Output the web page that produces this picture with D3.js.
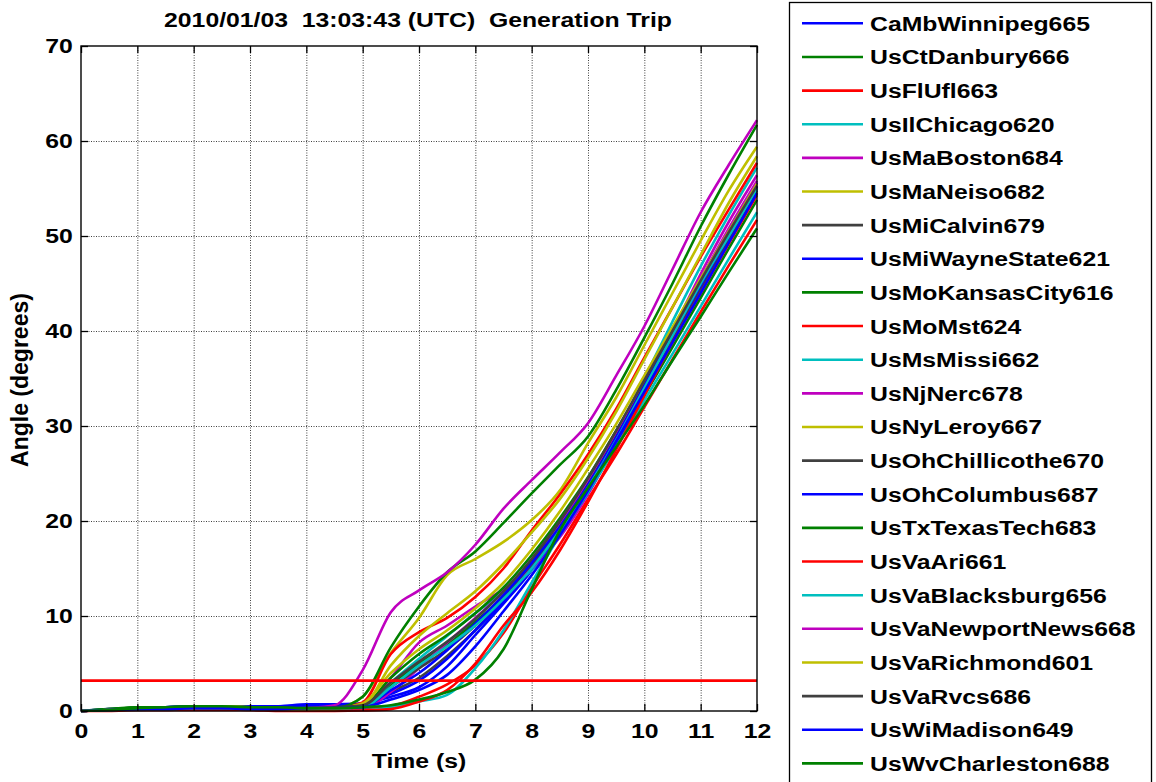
<!DOCTYPE html>
<html><head><meta charset="utf-8">
<script src="https://cdn.jsdelivr.net/npm/d3@7"></script>
<style>
body{margin:0;background:#fff}
svg{display:block}
text{font-family:Arial,"Liberation Sans",sans-serif;font-weight:bold;fill:#000}
</style>
</head><body><svg id="c" width="1156" height="782"></svg>
<script>
// ---- data ----
const titleText = "2010/01/03  13:03:43 (UTC)  Generation Trip";
const xLabel = "Time (s)";
const yLabel = "Angle (degrees)";
const times = [0,0.5,1,1.5,2,2.5,3,3.5,4,4.5,5,5.5,6,6.5,7,7.5,8,8.5,9,9.5,10,10.5,11,11.5,12];
const xTicks = [0,1,2,3,4,5,6,7,8,9,10,11,12];
const yTicks = [0,10,20,30,40,50,60,70];
const thresholdValue = 3.2;
const seriesNames = ["CaMbWinnipeg665","UsCtDanbury666","UsFlUfl663","UsIlChicago620","UsMaBoston684","UsMaNeiso682","UsMiCalvin679","UsMiWayneState621","UsMoKansasCity616","UsMoMst624","UsMsMissi662","UsNjNerc678","UsNyLeroy667","UsOhChillicothe670","UsOhColumbus687","UsTxTexasTech683","UsVaAri661","UsVaBlacksburg656","UsVaNewportNews668","UsVaRichmond601","UsVaRvcs686","UsWiMadison649","UsWvCharleston688"];
const seriesValues = [
 [0,0.1,0.3,0.4,0.5,0.5,0.4,0.5,0.6,0.7, 0.8,1.5,2.5,4.7,8,11.3,14.8,19,23.5,29,34.5,40,45.3,50.5,55.6],
 [0,0.2,0.4,0.4,0.5,0.5,0.3,0.3,0.3,0.4, 0.5,2.8,5,7,9.4,12,15.2,19,23.2,28,33.2,38.3,43.5,48.7,53.8],
 [0,0.1,0.1,0.1,0.2,0.2,0.1,0.1,0.1,0.1, 0.2,0.5,1.5,2.8,4.8,8.2,13,17.5,22.3,27,32,37,42,46.9,51.7],
 [0,0.1,0.2,0.3,0.3,0.3,0.2,0.2,0.3,0.4, 0.5,3,5.5,7.9,10.3,12.5,14.8,18.5,23.5,29,35,41,46.8,52.2,57.2],
 [0,0.1,0.2,0.3,0.4,0.4,0.3,0.2,0.2,0.3, 0.5,3.5,7.2,9,11,12.8,15,18.3,22.8,28.2,34,40,46,51.5,56.4],
 [0,0.1,0.2,0.3,0.4,0.5,0.3,0.2,0.2,0.3, 1.5,6.1,9.8,14.3,16,17.8,20.1,23.2,28.2,33,38.5,44,49.5,54.8,59.4],
 [0,0.1,0.2,0.2,0.3,0.3,0.2,0.2,0.3,0.3, 0.5,2,3.5,5.8,8.5,11.8,15.8,19.8,24.2,29.2,34.5,39.8,45,50,55],
 [0,0.2,0.3,0.4,0.5,0.5,0.5,0.5,0.7,0.7, 0.7,1.8,3.2,5.5,8.5,11.5,15,18.8,23,28.2,33.8,39.2,44.5,49.7,54.8],
 [0,0.2,0.4,0.4,0.5,0.5,0.4,0.3,0.3,0.4, 0.6,3.5,6,8,10.3,13,16.4,20.3,24.6,29.5,34.6,39.8,45,50.1,55.2],
 [0,0.1,0.2,0.2,0.3,0.3,0.2,0.2,0.2,0.3, 0.9,6,8.3,9.8,12,15,19,22.8,27,31.8,37.2,42.5,47.8,52.8,57.7],
 [0,0.1,0.1,0.2,0.2,0.2,0.2,0.1,0.1,0.1, 0.1,0.4,1,1.7,4.5,8.5,13.5,18.5,23,27.8,32.7,37.6,42.6,47.6,52.5],
 [0,0.1,0.2,0.2,0.3,0.3,0.3,0.1,0.2,0.3, 0.3,2,4.5,7.2,9.8,12.5,15.5,19.5,24.2,29.3,34.8,40.2,45.5,50.8,55.8],
 [0,0.1,0.2,0.3,0.4,0.5,0.4,0.2,0.2,0.3, 0.8,4,6.5,8.5,10.8,13.5,17,21,25.5,30.2,35.3,40.4,45.5,50.5,55.5],
 [0,0.1,0.2,0.3,0.3,0.3,0.2,0.2,0.2,0.3, 0.4,2.5,4.5,6.5,9,12,15.5,19.2,23.8,28.8,34,39.3,44.5,49.6,54.6],
 [0,0.1,0.2,0.3,0.4,0.4,0.3,0.3,0.4,0.5, 0.5,2.2,4,6.4,9.2,12.2,15.6,19.4,23.8,28.8,34.2,39.6,44.8,50,55.2],
 [0,0.2,0.3,0.4,0.4,0.4,0.3,0.2,0.2,0.3, 1.5,6.7,11,14.6,16.8,19.8,22.9,25.9,28.9,33.8,39.3,45,51,56.5,61.7],
 [0,0,0.1,0.1,0.1,0.1,0.1,0,0,0, 0.05,0.2,1,2.2,5,9,12.5,16.9,22,27.5,33.2,38.8,44,49.2,54.3],
 [0,0.1,0.2,0.2,0.3,0.3,0.2,0.2,0.2,0.3, 0.4,2.5,4.8,6.8,9,11.8,15,19,23.5,28.5,34,39.5,45,50,55],
 [0,0.1,0.2,0.3,0.4,0.4,0.3,0.2,0.3,0.6, 4.3,10.4,12.7,14.6,17.5,21.3,24.3,27.2,30.3,35.3,40.5,46.5,52.5,57.5,62.2],
 [0,0.1,0.2,0.2,0.3,0.4,0.3,0.2,0.2,0.2, 0.6,4.8,7.9,10.3,12.6,15.5,18.8,22.3,26.6,31.5,37,42.5,48,53.5,58.4],
 [0,0.1,0.2,0.2,0.3,0.3,0.3,0.2,0.3,0.4, 0.6,3,5.2,7.3,9.7,12.6,16,20,24.5,29.5,34.8,40,45.3,50.4,55.3],
 [0,0.1,0.2,0.2,0.3,0.3,0.2,0.2,0.3,0.3, 0.4,1.2,2.2,3.8,6.8,10.5,14.3,18.5,23.2,28.4,33.6,38.8,44,49.3,54.5],
 [0,0.1,0.3,0.4,0.5,0.5,0.4,0.4,0.3,0.3, 0.4,0.6,1.2,2,3.3,6.5,12.8,19,23.5,27.8,32.2,36.9,41.5,46.2,50.8]
];
const colorCycle = ["#0000ff","#008000","#ff0000","#00bfbf","#bf00bf","#bfbf00","#404040"];

// ---- layout ----
const SX = 1.18; // horizontal text stretch seen in the reference
const svg = d3.select("#c");
svg.append("rect").attr("width",1156).attr("height",782).attr("fill","#fff");
const L = 81, R = 757, T = 46, B = 711;
const x = d3.scaleLinear().domain([0,12]).range([L,R]);
const y = d3.scaleLinear().domain([0,70]).range([B,T]);
const color = i => colorCycle[i % colorCycle.length];

// grid
const grid = svg.append("g");
grid.append("g").attr("transform",`translate(0,${B})`)
  .call(d3.axisBottom(x).tickValues(xTicks.slice(1,-1)).tickSize(-(B-T)).tickFormat(""))
  .call(g=>g.select(".domain").remove())
  .selectAll("line").attr("stroke","#000").attr("stroke-opacity",0.75).attr("stroke-dasharray","1,1.5");
grid.append("g").attr("transform",`translate(${L},0)`)
  .call(d3.axisLeft(y).tickValues(yTicks.slice(1,-1)).tickSize(-(R-L)).tickFormat(""))
  .call(g=>g.select(".domain").remove())
  .selectAll("line").attr("stroke","#000").attr("stroke-opacity",0.75).attr("stroke-dasharray","1,1.5");

// series
const line = d3.line().x(d=>x(d[0])).y(d=>y(d[1])).curve(d3.curveMonotoneX);
const plot = svg.append("g");
seriesValues.forEach((vals,i)=>{
  plot.append("path").datum(times.map((t,k)=>[t,vals[k]]))
    .attr("d",line).attr("fill","none").attr("stroke",color(i))
    .attr("stroke-width",2.6).attr("stroke-linejoin","round");
});
// threshold line
plot.append("path").datum([[0,thresholdValue],[12,thresholdValue]])
  .attr("d",d3.line().x(d=>x(d[0])).y(d=>y(d[1])))
  .attr("stroke","#ff0000").attr("stroke-width",2.8).attr("fill","none");

// axes with inner ticks
const fs = 21;
const ax = svg.append("g");
ax.append("g").attr("transform",`translate(0,${B})`)
  .call(d3.axisBottom(x).tickValues(xTicks).tickSizeInner(-7).tickSizeOuter(0).tickPadding(12));
ax.append("g").attr("transform",`translate(${L},0)`)
  .call(d3.axisLeft(y).tickValues(yTicks).tickSizeInner(-7).tickSizeOuter(0).tickPadding(7));
ax.append("g").attr("transform",`translate(0,${T})`)
  .call(d3.axisTop(x).tickValues(xTicks).tickSizeInner(-7).tickSizeOuter(0).tickFormat(""));
ax.append("g").attr("transform",`translate(${R},0)`)
  .call(d3.axisRight(y).tickValues(yTicks).tickSizeInner(-7).tickSizeOuter(0).tickFormat(""));
ax.selectAll(".domain").remove();
ax.selectAll("line").attr("stroke","#000").attr("stroke-width",1.3);
ax.selectAll("text").attr("font-size",fs).attr("font-family",null).style("font-weight","bold")
  .attr("transform",`scale(${SX},1)`);
svg.append("rect").attr("x",L).attr("y",T).attr("width",R-L).attr("height",B-T)
  .attr("fill","none").attr("stroke","#000").attr("stroke-width",1.4);

// titles
function stext(px,py,str,size,anchor){
  return svg.append("text").attr("transform",`translate(${px},${py}) scale(${SX},1)`)
    .attr("text-anchor",anchor).attr("font-size",size).style("white-space","pre").text(str);
}
stext(418,27,titleText,fs,"middle");
stext(419,768,xLabel,fs,"middle");
svg.append("text").attr("transform",`translate(28,380) rotate(-90)`)
  .attr("text-anchor","middle").attr("font-size",23).text(yLabel);

// legend
const lg = svg.append("g");
lg.append("rect").attr("x",789.5).attr("y",2.5).attr("width",362).attr("height",820)
  .attr("fill","#fff").attr("stroke","#000").attr("stroke-width",1.3);
seriesNames.forEach((name,i)=>{
  const yy = 23.3 + i*33.64;
  lg.append("line").attr("x1",802).attr("x2",863).attr("y1",yy).attr("y2",yy)
    .attr("stroke",color(i)).attr("stroke-width",2.6);
  lg.append("text").attr("transform",`translate(870,${yy+7.5}) scale(${SX},1)`)
    .attr("font-size",fs).text(name);
});
</script></body></html>
